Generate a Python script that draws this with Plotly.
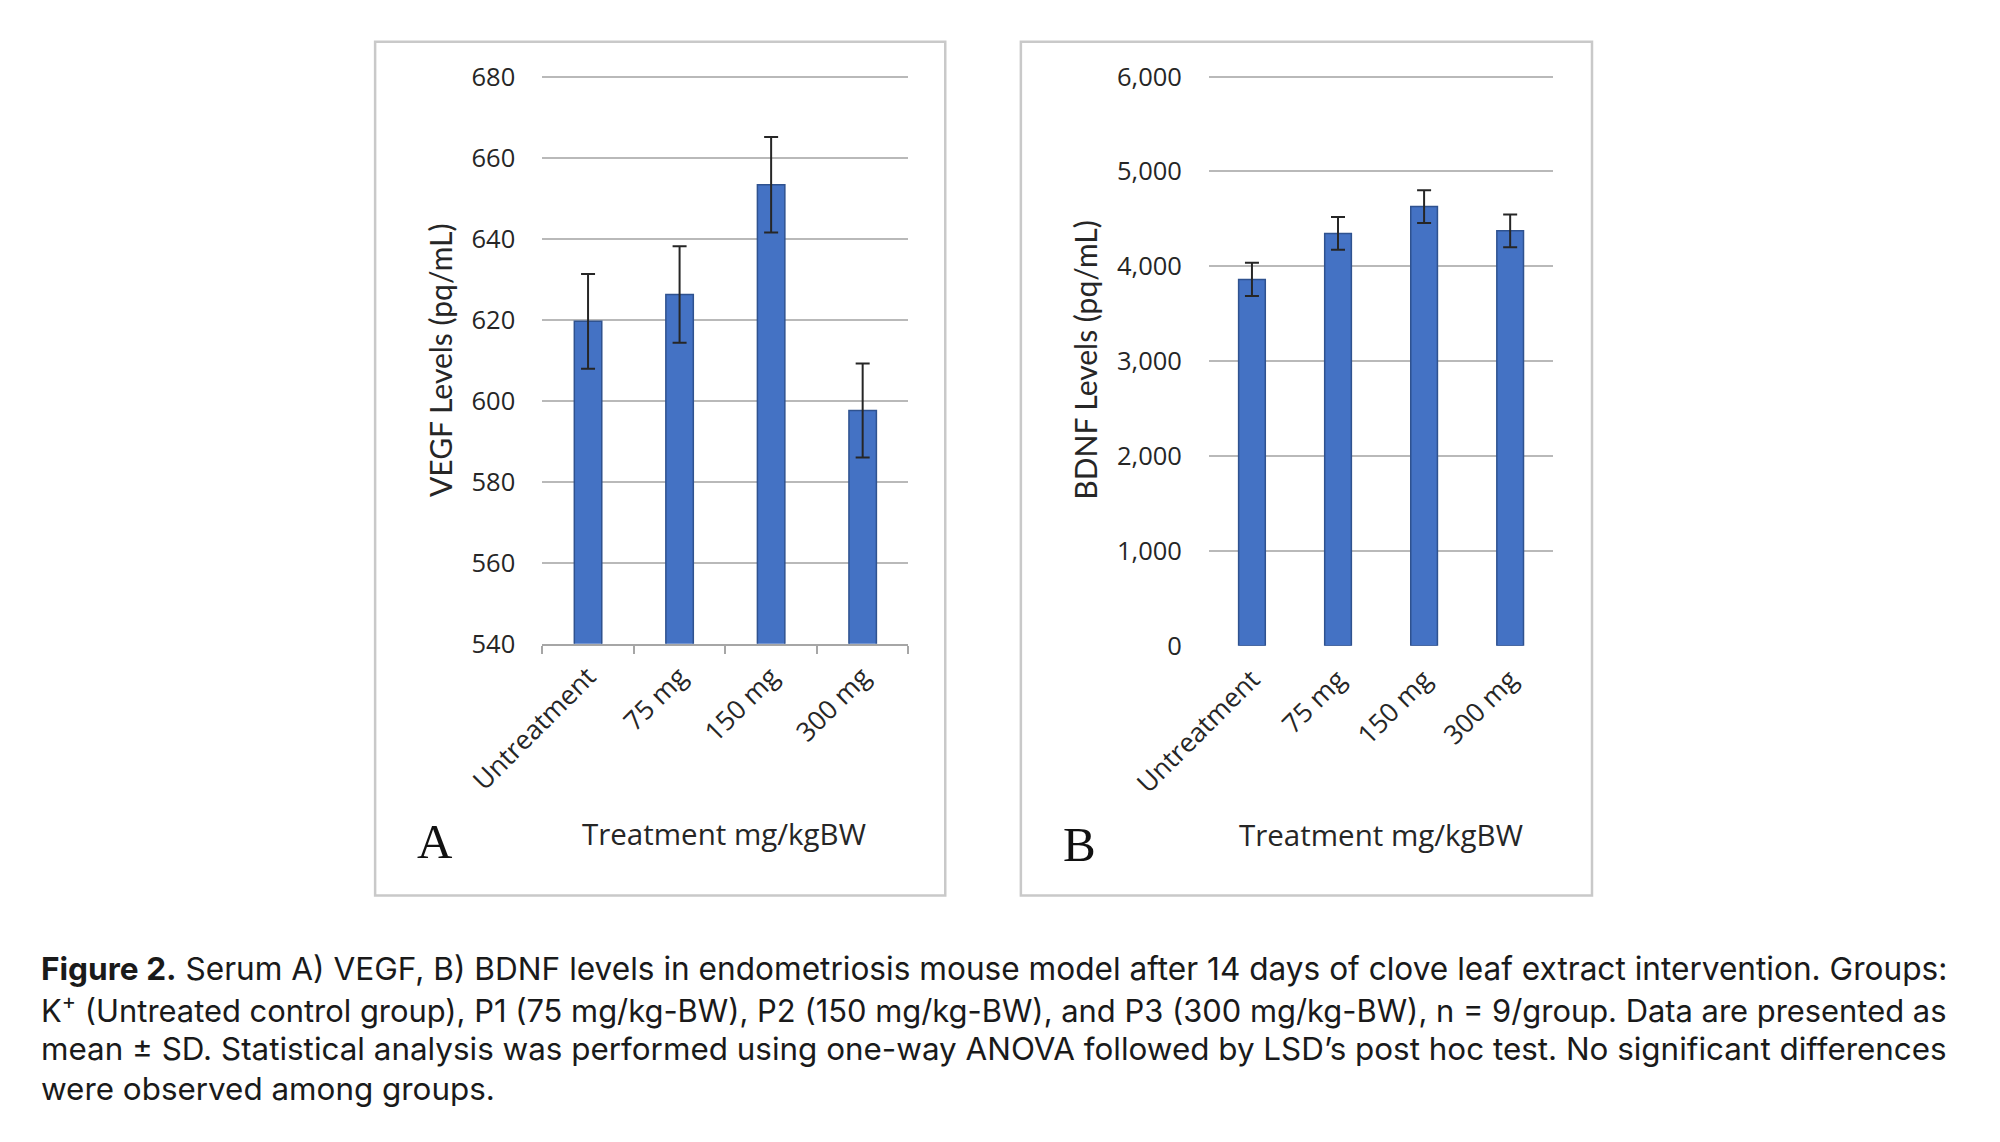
import plotly.graph_objects as go

groups = ["Untreatment", "75 mg", "150 mg", "300 mg"]
vegf_mean = [619.6, 626.2, 653.3, 597.6]
vegf_sd = [11.7, 11.9, 11.8, 11.6]
bdnf_mean = [3862, 4347, 4630, 4374]
bdnf_sd = [175, 172, 172, 172]

vegf_ticks = [540, 560, 580, 600, 620, 640, 660, 680]
bdnf_ticks = [0, 1000, 2000, 3000, 4000, 5000, 6000]

caption = [
    "<b>Figure 2.</b> Serum A) VEGF, B) BDNF levels in endometriosis mouse model after 14 days of clove leaf extract intervention. Groups:",
    "K<sup>+</sup> (Untreated control group), P1 (75 mg/kg-BW), P2 (150 mg/kg-BW), and P3 (300 mg/kg-BW), n = 9/group. Data are presented as",
    "mean ± SD. Statistical analysis was performed using one-way ANOVA followed by LSD’s post hoc test. No significant differences",
    "were observed among groups.",
]

W, H = 2000, 1142
OFF = 8     # page body margin
S = 0.995   # correction for my reading of the reference
bar_color = "#4472C4"
bar_edge = "#2F528F"
grid = "#B9B9B9"
num_font = dict(family="Open Sans", size=25.5, color="#262626")
cat_font = dict(family="Open Sans", size=26.5, color="#262626")
# the printed caption is justified, so lines get slightly different sizes
caption_sizes = [31.6, 30.9, 31.4, 31.4]


def px(x):
    return (x * S - OFF) / W


def py(y):
    return 1 - (y * S - OFF) / H


fig = go.Figure()

fig.add_trace(go.Bar(
    x=groups, y=vegf_mean, xaxis="x", yaxis="y",
    width=0.3,
    marker=dict(color=bar_color, line=dict(color=bar_edge, width=1.5)),
    error_y=dict(type="data", array=vegf_sd, color="#262626", thickness=2, width=7),
))
fig.add_trace(go.Bar(
    x=groups, y=bdnf_mean, xaxis="x2", yaxis="y2",
    width=0.31,
    marker=dict(color=bar_color, line=dict(color=bar_edge, width=1.5)),
    error_y=dict(type="data", array=bdnf_sd, color="#262626", thickness=2, width=7),
))

# a little head room so that the top gridline is drawn
a_top = 77 - 570 / 140 * 1.0
b_top = 77 - 572 / 6000 * 40

fig.update_layout(
    width=W, height=H,
    margin=dict(l=0, r=0, t=0, b=0, autoexpand=False),
    paper_bgcolor="white", plot_bgcolor="white",
    showlegend=False,
    xaxis=dict(
        domain=[px(545), px(913)], anchor="y", automargin=False,
        tickangle=-45, tickfont=cat_font, ticklabelstandoff=5,
        showline=True, linecolor="#A6A6A6", linewidth=2,
        ticks="outside", tickson="boundaries", ticklen=8, tickcolor="#A6A6A6", tickwidth=2,
        showgrid=False,
    ),
    yaxis=dict(
        domain=[py(647), py(a_top)], anchor="x", automargin=False,
        range=[540, 681], tickvals=vegf_ticks, tickfont=num_font,
        showgrid=True, gridcolor=grid, gridwidth=2,
        zeroline=False, showline=False, ticks="", ticklabelstandoff=26,
    ),
    xaxis2=dict(
        domain=[px(1215), px(1561)], anchor="y2", automargin=False,
        tickangle=-45, tickfont=cat_font, ticklabelstandoff=12,
        showline=False, ticks="", showgrid=False,
    ),
    yaxis2=dict(
        domain=[py(649), py(b_top)], anchor="x2", automargin=False,
        range=[0, 6040], tickvals=bdnf_ticks, tickformat=",", tickfont=num_font,
        showgrid=True, gridcolor=grid, gridwidth=2,
        zeroline=False, showline=False, ticks="", ticklabelstandoff=26,
    ),
)

# panel frames
for x0, x1 in [(377, 950), (1026, 1600)]:
    fig.add_shape(type="rect", xref="paper", yref="paper",
                  x0=px(x0), x1=px(x1), y0=py(900), y1=py(42),
                  line=dict(color="#C9C9C9", width=2.5), fillcolor="rgba(0,0,0,0)")

annotations = [
    dict(text="VEGF Levels (pq/mL)", x=px(442), y=py(362), textangle=-90,
         font=dict(family="Lato", size=30, color="#262626")),
    dict(text="BDNF Levels (pq/mL)", x=px(1091), y=py(362), textangle=-90,
         font=dict(family="Lato", size=30, color="#262626")),
    dict(text="Treatment mg/kgBW", x=px(728), y=py(838),
         font=dict(family="Open Sans", size=29.5, color="#262626")),
    dict(text="Treatment mg/kgBW", x=px(1388), y=py(839),
         font=dict(family="Open Sans", size=29.5, color="#262626")),
    dict(text="A", x=px(437), y=py(846),
         font=dict(family="Liberation Serif", size=49, color="#111111")),
    dict(text="B", x=px(1085), y=py(849),
         font=dict(family="Liberation Serif", size=49, color="#111111")),
]
for a in annotations:
    a.update(xref="paper", yref="paper", showarrow=False, xanchor="center", yanchor="middle")
    fig.add_annotation(**a)

for i, line in enumerate(caption):
    fig.add_annotation(text=line, xref="paper", yref="paper", showarrow=False,
                       x=px(39), y=py(973 + i * 40.6), xanchor="left", yanchor="middle",
                       font=dict(family="Inter", size=caption_sizes[i], color="#1a1a1a"))

fig.write_html("out.html")
